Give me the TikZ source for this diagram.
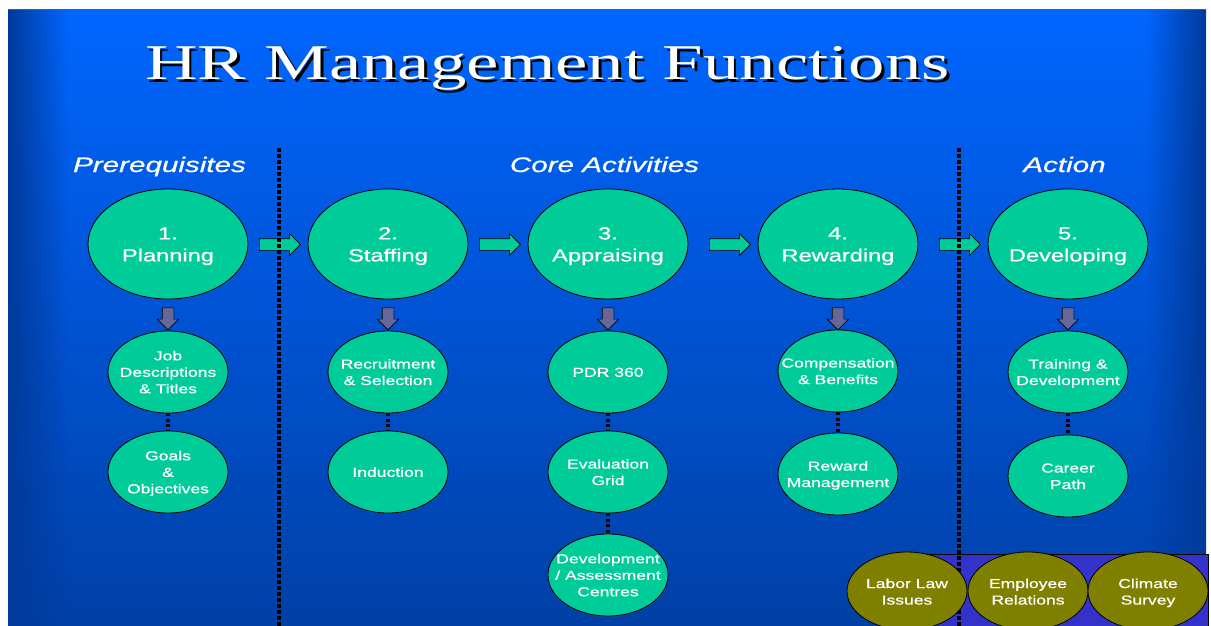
\documentclass[tikz,border=0pt]{standalone}
\usepackage{fontspec}
\setmainfont{Liberation Sans}[FakeBold=0.6]
\newfontfamily\titlefont{Liberation Serif}
\usetikzlibrary{shapes.geometric,shapes.arrows,fadings}
\definecolor{bgtop}{RGB}{0,102,255}
\definecolor{bgbot}{RGB}{0,64,166}
\definecolor{bgedge}{RGB}{0,58,155}
\definecolor{hrgreen}{RGB}{0,204,153}
\definecolor{hrgray}{RGB}{102,102,153}
\definecolor{hrolive}{RGB}{128,128,0}
\definecolor{hrpurple}{RGB}{51,51,204}
\tikzfading[name=edgeL, left color=transparent!0, right color=transparent!100]
\tikzfading[name=edgeR, left color=transparent!100, right color=transparent!0]
\newcommand\hrlines[1]{\scalebox{1.35}[1]{\begin{tabular}{@{}c@{}}#1\end{tabular}}}
\newcommand\shaft{\rule{0pt}{11pt}}
\tikzset{
  bigell/.style={ellipse, draw=black, line width=0.8pt, fill=hrgreen, minimum width=160pt, minimum height=110pt, inner sep=0pt},
  smallell/.style={ellipse, draw=black, line width=0.8pt, fill=hrgreen, minimum width=120pt, minimum height=82pt, inner sep=0pt},
  oliveell/.style={smallell, fill=hrolive, minimum height=78pt},
  bigtxt/.style={text=white, font=\fontsize{17.5}{22}\selectfont, inner sep=0pt},
  smalltxt/.style={text=white, font=\fontsize{13}{16.5}\selectfont, inner sep=0pt},
  flowarrow/.style={single arrow, draw=black, line width=0.6pt, fill=hrgreen, minimum width=21pt, minimum height=41pt, single arrow head extend=5pt, single arrow head indent=0pt, inner sep=0pt},
  downarrow/.style={flowarrow, fill=hrgray, minimum height=22pt, rotate=-90},
  sepline/.style={black, line width=4pt, dash pattern=on 3.5pt off 2.5pt},
  linkline/.style={black, line width=4pt, dash pattern=on 3pt off 2.5pt},
  secttxt/.style={text=white, font=\fontsize{21}{25}\selectfont\itshape, inner sep=0pt, anchor=base},
}
\begin{document}
\begin{tikzpicture}[x=1pt,y=-1pt]
\useasboundingbox (0,0) rectangle (1211,626);
% background
\fill[white] (0,0) rectangle (1211,626);
\shade[top color=bgtop, bottom color=bgbot] (8,10) rectangle (1206,626);
\fill[bgedge, path fading=edgeL] (8,10) rectangle (68,626);
\fill[bgedge, path fading=edgeR] (1146,10) rectangle (1206,626);
% title
\node[anchor=base west, inner sep=0pt, text=black] (titleshadow) at (147.5,82.5)
  {\scalebox{1.456}[1]{\titlefont\fontsize{50}{50}\selectfont HR Management Functions}};
\node[anchor=base west, inner sep=0pt, text=white] (title) at (145,80)
  {\scalebox{1.456}[1]{\titlefont\fontsize{50}{50}\selectfont HR Management Functions}};
% section labels
\node[secttxt] (s1) at (159.5,172) {\scalebox{1.41}[1]{Prerequisites}};
\node[secttxt] (s2) at (604.5,172) {\scalebox{1.41}[1]{Core Activities}};
\node[secttxt] (s3) at (1064.5,172) {\scalebox{1.41}[1]{Action}};
% bottom band
\draw[black, line width=0.8pt, fill=hrpurple] (905,554) rectangle (1208,640);
% flow arrows
\node[flowarrow] (a12) at (277,244.5) {\shaft};
\node[flowarrow] (a23) at (497,244.5) {\shaft};
\node[flowarrow] (a34) at (727,244.5) {\shaft};
\node[flowarrow] (a45) at (957,244.5) {\shaft};
% separators
\coordinate (d1t) at (279,148);
\coordinate (d1b) at (279,630);
\coordinate (d2t) at (959,148);
\coordinate (d2b) at (959,630);
\draw[sepline] (d1t) -- (d1b);
\draw[sepline] (d2t) -- (d2b);
% main ellipses
\node[bigell] (p1) at (168,244) {};
\node[bigell] (p2) at (388,244) {};
\node[bigell] (p3) at (608,244) {};
\node[bigell] (p4) at (838,244) {};
\node[bigell] (p5) at (1068,244) {};
\node[bigtxt] (p1t) at (168,246) {\hrlines{1.\\Planning}};
\node[bigtxt] (p2t) at (388,246) {\hrlines{2.\\Staffing}};
\node[bigtxt] (p3t) at (608,246) {\hrlines{3.\\Appraising}};
\node[bigtxt] (p4t) at (838,246) {\hrlines{4.\\Rewarding}};
\node[bigtxt] (p5t) at (1068,246) {\hrlines{5.\\Developing}};
% down arrows
\node[downarrow] (da1) at (168,316) {\shaft};
\node[downarrow] (da2) at (388,316) {\shaft};
\node[downarrow] (da3) at (608,316) {\shaft};
\node[downarrow] (da4) at (838,316) {\shaft};
\node[downarrow] (da5) at (1068,316) {\shaft};
% sub ellipses
\node[smallell] (q1a) at (168,372) {};
\node[smallell] (q1b) at (168,472) {};
\node[smallell] (q2a) at (388,372) {};
\node[smallell] (q2b) at (388,472) {};
\node[smallell] (q3a) at (608,372) {};
\node[smallell] (q3b) at (608,472) {};
\node[smallell] (q3c) at (608,575) {};
\node[smallell] (q4a) at (838,371) {};
\node[smallell] (q4b) at (838,474) {};
\node[smallell] (q5a) at (1068,372) {};
\node[smallell] (q5b) at (1068,476) {};
\draw[linkline] (q1a.south) -- (q1b.north);
\draw[linkline] (q2a.south) -- (q2b.north);
\draw[linkline] (q3a.south) -- (q3b.north);
\draw[linkline] (q3b.south) -- (q3c.north);
\draw[linkline] (q4a.south) -- (q4b.north);
\draw[linkline] (q5a.south) -- (q5b.north);
\node[smalltxt] (q1at) at (168,373.5) {\hrlines{Job\\Descriptions\\\& Titles}};
\node[smalltxt] (q1bt) at (168,473.5) {\hrlines{Goals\\\&\\Objectives}};
\node[smalltxt] (q2at) at (388,373.5) {\hrlines{Recruitment\\\& Selection}};
\node[smalltxt] (q2bt) at (388,473.5) {\hrlines{Induction}};
\node[smalltxt] (q3at) at (608,373.5) {\hrlines{PDR 360}};
\node[smalltxt] (q3bt) at (608,473.5) {\hrlines{Evaluation\\Grid}};
\node[smalltxt] (q3ct) at (608,576.5) {\hrlines{Development\\/ Assessment\\Centres}};
\node[smalltxt] (q4at) at (838,372.5) {\hrlines{Compensation\\\& Benefits}};
\node[smalltxt] (q4bt) at (838,475.5) {\hrlines{Reward\\Management}};
\node[smalltxt] (q5at) at (1068,373.5) {\hrlines{Training \&\\Development}};
\node[smalltxt] (q5bt) at (1068,477.5) {\hrlines{Career\\Path}};
% bottom olive ellipses
\node[oliveell] (o1) at (907,591) {};
\node[oliveell] (o2) at (1028,591) {};
\node[oliveell] (o3) at (1148,591) {};
\node[smalltxt] (o1t) at (907,593) {\hrlines{Labor Law\\Issues}};
\node[smalltxt] (o2t) at (1028,593) {\hrlines{Employee\\Relations}};
\node[smalltxt] (o3t) at (1148,593) {\hrlines{Climate\\Survey}};
\end{tikzpicture}
\end{document}
